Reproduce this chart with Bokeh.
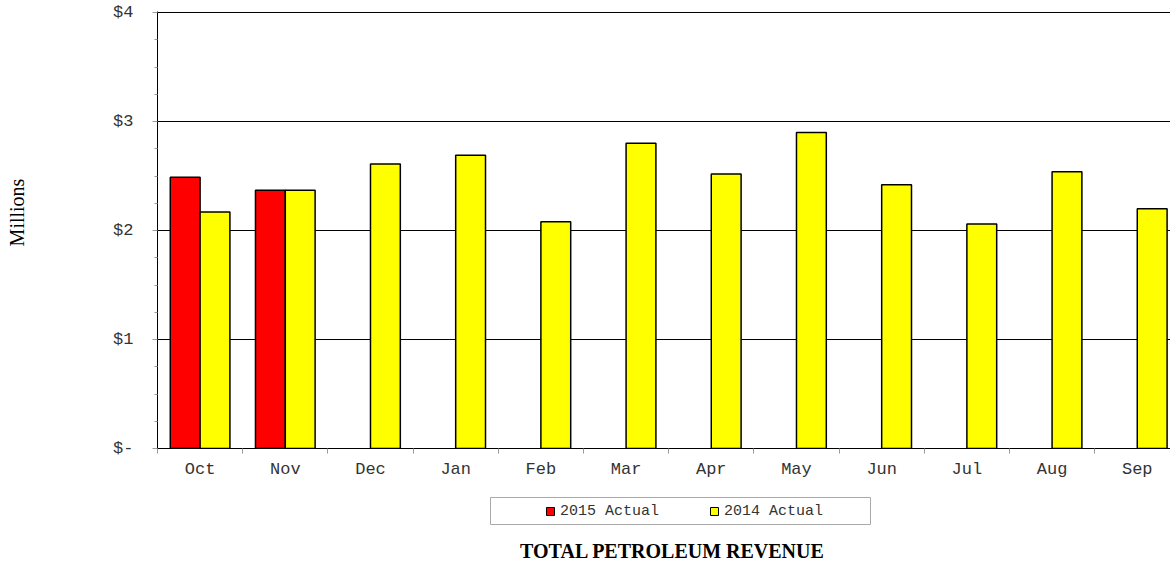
import numpy as np
from bokeh.plotting import figure
from bokeh.layouts import column
from bokeh.models import (ColumnDataSource, FixedTicker, Range1d, Legend,
                          LegendItem, Label, BoxAnnotation)
from bokeh.transform import dodge
from bokeh.embed import file_html
from bokeh.resources import INLINE

# ---------------- data ----------------
months = ["Oct", "Nov", "Dec", "Jan", "Feb", "Mar",
          "Apr", "May", "Jun", "Jul", "Aug", "Sep"]
actual_2015 = [2.49, 2.37]                      # Oct, Nov only
actual_2014 = [2.17, 2.37, 2.61, 2.69, 2.08, 2.80,
               2.52, 2.90, 2.42, 2.06, 2.54, 2.20]
y_ticks = [0, 1, 2, 3, 4]
y_tick_labels = ["$-", "$1", "$2", "$3", "$4"]
series_names = ["2015 Actual", "2014 Actual"]
series_colors = ["#FF0000", "#FFFF00"]
chart_title = "TOTAL PETROLEUM REVENUE"
y_title = "Millions"

# ---------------- sources ----------------
pos = np.arange(len(months)) + 0.5
src15 = ColumnDataSource(dict(x=pos[:len(actual_2015)], top=actual_2015))
src14 = ColumnDataSource(dict(x=pos, top=actual_2014))

p = figure(width=1170, height=490,
           x_range=Range1d(0, 11.89), y_range=Range1d(0, 4.01),
           output_backend="svg", toolbar_location=None,
           min_border_left=157, min_border_right=0,
           min_border_top=11, min_border_bottom=42)
p.background_fill_color = "white"
p.border_fill_color = "white"
p.outline_line_color = None

p.vbar(x=dodge("x", -0.175), top="top", bottom=0, width=0.35, source=src15,
       fill_color=series_colors[0], line_color="black", line_width=1.5)
p.vbar(x=dodge("x", 0.175), top="top", bottom=0, width=0.35, source=src14,
       fill_color=series_colors[1], line_color="black", line_width=1.5)

# ---------------- axes ----------------
xa = p.xaxis[0]
xa.ticker = FixedTicker(ticks=list(pos), minor_ticks=list(range(len(months) + 1)))
xa.major_label_overrides = {float(x): m for x, m in zip(pos, months)}
xa.axis_line_color = "black"
xa.major_tick_line_color = None
xa.major_tick_out = 0
xa.major_tick_in = 0
xa.minor_tick_line_color = "#999999"
xa.minor_tick_out = 5
xa.minor_tick_in = 0
xa.major_label_standoff = 6
xa.major_label_text_font = "Liberation Mono"
xa.major_label_text_font_size = "17px"
xa.major_label_text_color = "#333333"

ya = p.yaxis[0]
ya.ticker = FixedTicker(ticks=y_ticks,
                        minor_ticks=[t + f for t in y_ticks[:-1] for f in (0.25, 0.5, 0.75)])
ya.major_label_overrides = {t: l for t, l in zip(y_ticks, y_tick_labels)}
ya.axis_line_color = "black"
ya.major_tick_line_color = "#999999"
ya.major_tick_out = 5
ya.major_tick_in = 0
ya.minor_tick_line_color = "#999999"
ya.minor_tick_out = 3
ya.minor_tick_in = 0
ya.major_label_standoff = 19
ya.major_label_text_font = "Liberation Mono"
ya.major_label_text_font_size = "17px"
ya.major_label_text_color = "#333333"
ya.axis_label = "\u00a0" * 7 + y_title
ya.axis_label_standoff = 82
ya.axis_label_text_font = "Liberation Serif"
ya.axis_label_text_font_size = "20px"
ya.axis_label_text_font_style = "normal"
ya.axis_label_text_color = "black"

p.xgrid.visible = False
p.ygrid.ticker = FixedTicker(ticks=y_ticks)
p.ygrid.grid_line_color = "black"
p.ygrid.grid_line_width = 1

# ---------------- bottom strip: legend + title ----------------
q = figure(width=1170, height=71, x_range=Range1d(100, 101), y_range=Range1d(100, 101),
           output_backend="svg", toolbar_location=None,
           x_axis_location=None, y_axis_location=None, min_border=0)
q.grid.visible = False
q.outline_line_color = None
q.background_fill_color = "white"
q.border_fill_color = "white"

# legend swatches (their data lies outside this strip's ranges, so only the
# legend shows them)
leg15 = q.scatter(x="x", y="top", source=src15, marker="square",
                  fill_color=series_colors[0], line_color="black", line_width=1)
leg14 = q.scatter(x="x", y="top", source=src14, marker="square",
                  fill_color=series_colors[1], line_color="black", line_width=1)

q.add_layout(BoxAnnotation(left=333, right=713, bottom=37, top=64,
                           left_units="screen", right_units="screen",
                           bottom_units="screen", top_units="screen",
                           fill_color="white", fill_alpha=1,
                           line_color="#aaaaaa", line_width=1, line_alpha=1))
legend = Legend(items=[LegendItem(label=series_names[0], renderers=[leg15]),
                       LegendItem(label=series_names[1], renderers=[leg14])],
                orientation="horizontal", location=(383, 40), margin=0,
                padding=0, spacing=45, glyph_width=20, glyph_height=20,
                label_standoff=0, label_height=20,
                label_text_font="Liberation Mono", label_text_font_size="15px",
                label_text_color="#333333",
                border_line_color=None, background_fill_alpha=0)
q.add_layout(legend, "center")
q.add_layout(Label(x=515, y=11, x_units="screen", y_units="screen",
                   text=chart_title, text_align="center",
                   text_baseline="middle", text_font="Liberation Serif",
                   text_font_size="20px", text_font_style="bold",
                   text_color="black"))

layout = column(p, q, spacing=0)
open("out.html", "w").write(file_html(layout, INLINE))
